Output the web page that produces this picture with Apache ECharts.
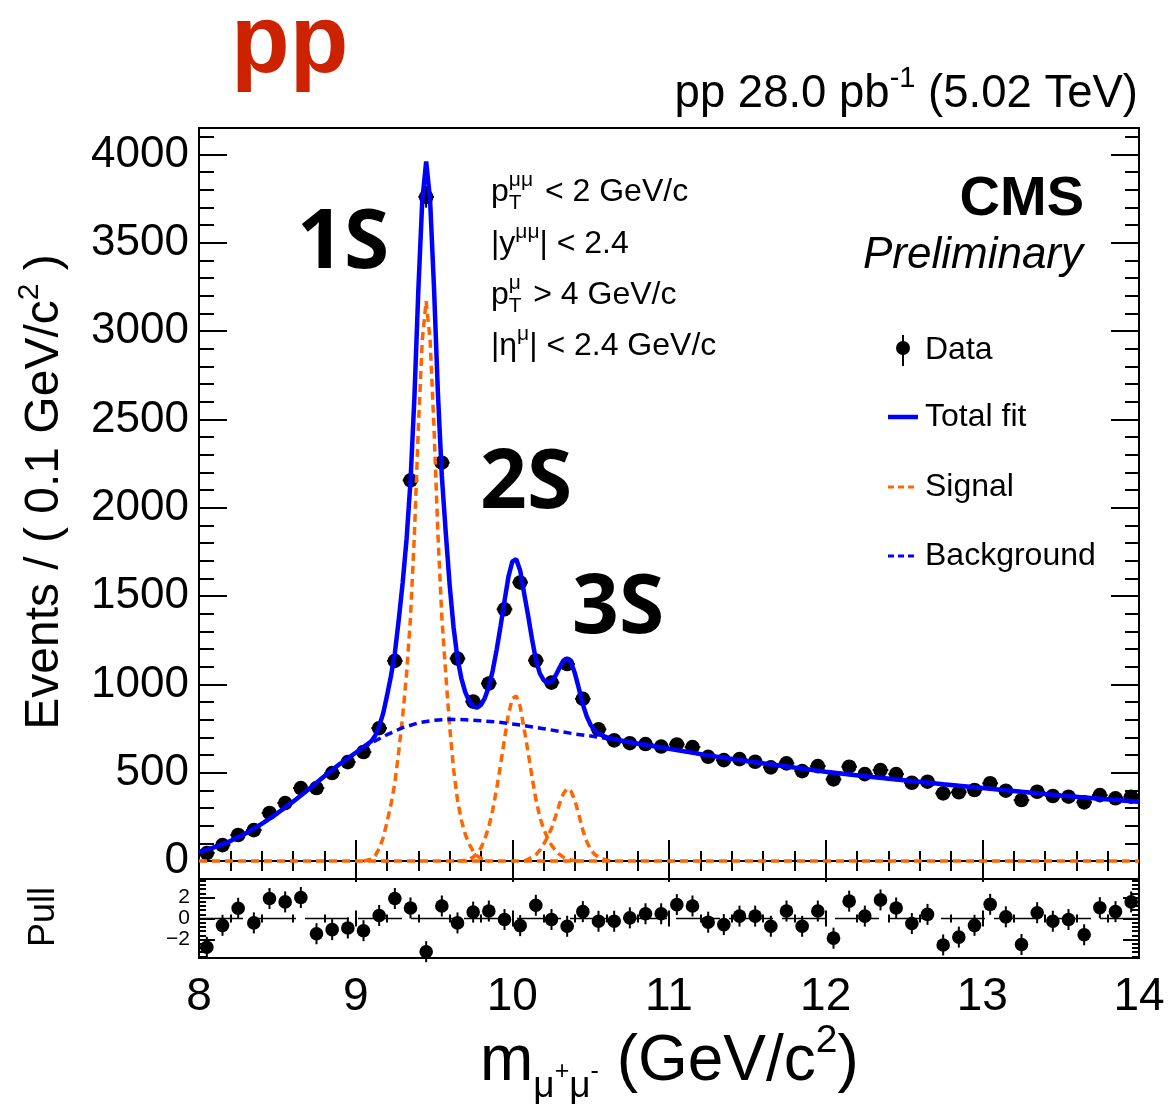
<!DOCTYPE html>
<html><head><meta charset="utf-8">
<script src="https://cdn.jsdelivr.net/npm/echarts@6/dist/echarts.min.js"></script>
<style>html,body{margin:0;padding:0;background:#fff}#c{width:1169px;height:1109px}</style>
</head><body><div id="c"></div>
<script>
// ---------------- data ----------------
const massCenters = [8.05,8.15,8.25,8.35,8.45,8.55,8.65,8.75,8.85,8.95,9.05,9.15,9.25,9.35,9.45,9.55,9.65,9.75,9.85,9.95,
  10.05,10.15,10.25,10.35,10.45,10.55,10.65,10.75,10.85,10.95,11.05,11.15,11.25,11.35,11.45,11.55,11.65,11.75,11.85,11.95,
  12.05,12.15,12.25,12.35,12.45,12.55,12.65,12.75,12.85,12.95,13.05,13.15,13.25,13.35,13.45,13.55,13.65,13.75,13.85,13.95];
const events = [45,90,147,175,272,328,413,413,498,560,617,752,1133,2155,3760,2255,1146,903,1005,1425,
  1577,1135,1010,1115,918,745,683,667,662,648,660,645,590,571,577,562,530,553,509,537,
  462,534,492,515,492,443,449,383,389,402,440,398,345,392,368,364,332,373,355,364];
const eventErr = [7,9,12,13,16,18,20,20,22,24,25,27,34,46,61,47,34,30,32,38,
  40,34,32,33,30,27,26,26,26,25,26,25,24,24,24,24,23,24,23,23,
  21,23,22,23,22,21,21,20,20,20,21,20,19,20,19,19,18,19,19,19];
const pulls = [-2.74,-0.65,0.97,-0.42,1.9,1.58,2.0,-1.45,-1.06,-0.9,-1.16,0.29,1.9,1.0,-3.16,1.19,-0.42,0.61,0.71,-0.1,
  -0.68,1.26,-0.1,-0.74,0.65,-0.26,-0.26,0.06,0.45,0.45,1.32,1.19,-0.35,-0.58,0.23,0.23,-0.74,0.71,-0.74,0.71,
  -1.87,1.65,0.23,1.77,1.0,-0.48,0.39,-2.52,-1.77,-0.65,1.35,0.16,-2.48,0.55,-0.26,-0.1,-1.55,1.03,0.65,1.58];

const fitMass = [8.0,8.1,8.2,8.3,8.4,8.5,8.6,8.7,8.8,8.9,9.0,
  9.1,9.125,9.15,9.175,9.2,9.225,9.25,9.275,9.3,9.325,9.35,9.375,9.4,9.425,9.45,9.475,9.5,9.525,9.55,9.575,
  9.6,9.625,9.65,9.675,9.7,9.725,9.75,9.775,9.8,9.825,9.85,9.875,9.9,9.925,9.95,9.975,
  10.0,10.025,10.05,10.075,10.1,10.125,10.15,10.175,10.2,10.225,10.25,10.275,10.3,10.325,10.35,10.375,
  10.4,10.425,10.45,10.475,10.5,10.525,10.55,10.575,10.6,10.625,10.65,
  10.75,11.0,11.25,11.5,11.75,12.0,12.25,12.5,12.75,13.0,13.25,13.5,13.75,14.0];
const fitValues = [50,78,113,157,210,270,336,406,480,550,613,
  678,710,762,834,935,1046,1176,1366,1575,1823,2150,2626,3232,3737,3961,3744,3247,2649,2180,1861,
  1562,1322,1147,1033,955,904,874,868,884,924,986,1079,1197,1330,1472,1609,
  1696,1708,1645,1517,1393,1260,1141,1063,1024,1010,1016,1048,1092,1132,1148,1124,
  1061,976,887,819,770,741,722,710,701,695,690,
  672,636,598,565,535,505,480,457,434,413,392,371,353,335];

const bgMass = [8.0,8.1,8.2,8.3,8.4,8.5,8.6,8.7,8.8,8.9,9.0,9.1,9.2,9.3,9.4,9.5,9.6,9.7,9.8,9.9,
  10.0,10.1,10.2,10.3,10.4,10.5,10.6,10.75,11.0,11.25,11.5,11.75,12.0,12.25,12.5,12.75,13.0,13.25,13.5,13.75,14.0];
const bgValues = [50,78,113,157,210,270,336,406,480,550,613,668,715,755,782,797,802,800,794,787,
  776,763,749,734,719,708,694,672,636,598,565,535,505,480,457,434,413,392,371,353,335];

const s1Mass = [9.05,9.1,9.125,9.15,9.175,9.2,9.225,9.25,9.275,9.3,9.325,9.35,9.375,9.4,9.425,9.45,9.475,9.5,9.525,9.55,
  9.575,9.6,9.625,9.65,9.675,9.7,9.725,9.75,9.775,9.8,9.825,9.85];
const s1Values = [0,10,30,70,130,220,320,440,620,820,1060,1380,1850,2450,2950,3170,2950,2450,1850,1380,
  1060,760,520,345,230,150,95,55,30,15,6,0];
const s2Mass = [9.65,9.675,9.7,9.725,9.75,9.775,9.8,9.825,9.85,9.875,9.9,9.925,9.95,9.975,10.0,10.025,10.05,10.075,
  10.1,10.125,10.15,10.175,10.2,10.225,10.25,10.275,10.3,10.325,10.35,10.375,10.4,10.45];
const s2Values = [0,2,5,10,22,42,75,125,195,290,410,545,690,830,920,935,875,750,
  620,480,350,250,180,130,90,60,38,22,12,6,2,0];
const s3Mass = [10.075,10.1,10.125,10.15,10.175,10.2,10.225,10.25,10.275,10.3,10.325,10.35,10.375,10.4,10.425,10.45,
  10.475,10.5,10.525,10.55,10.575,10.6,10.625,10.65];
const s3Values = [0,10,20,35,60,95,135,185,250,320,380,410,395,340,260,175,
  110,65,38,22,12,6,2,0];

const yMajorTicks = [0,500,1000,1500,2000,2500,3000,3500,4000];
const yMinorTicks = [100,200,300,400,600,700,800,900,1100,1200,1300,1400,1600,1700,1800,1900,2100,2200,2300,2400,
  2600,2700,2800,2900,3100,3200,3300,3400,3600,3700,3800,3900,4100];
const pullMajorTicks = [-2,0,2];
const pullMinorTicks = [-3.6,-3.2,-2.8,-2.4,-1.6,-1.2,-0.8,-0.4,0.4,0.8,1.2,1.6,2.4,2.8,3.2,3.6];

// ---------------- helpers ----------------
const F = "'Liberation Sans', Arial, sans-serif";
const mctx = document.createElement('canvas').getContext('2d');
function tw(t, f){ mctx.font = f; return mctx.measureText(t).width; }
function seq(pieces, x, y, align, rot){
  rot = rot || 0;
  const ws = pieces.map(p => p.adv === false ? 0 : tw(p.t, p.f));
  const total = ws.reduce((a,b)=>a+b,0);
  let d = align === 'right' ? -total : (align === 'center' ? -total/2 : 0);
  const c = Math.cos(rot), s = Math.sin(rot);
  const out = [];
  pieces.forEach((p,i)=>{
    const dy = p.dy || 0;
    out.push({type:'text', x: x + d*c + dy*s, y: y - d*s + dy*c, rotation: rot, z: 100,
      style:{text:p.t, font:p.f, fill:p.fill || '#000', textAlign:'left', textVerticalAlign:'middle'}});
    d += ws[i];
  });
  return out;
}
const f = (sz, w, st) => `${st||'normal'} normal ${w||'normal'} ${sz}px ${F}`;
const tickStyle = {color:'#000', width:2};
const BLUE = '#0000ff', ORANGE = '#ff6600';

function xAx(grid, pos, majLen, minLen, labels){
  return {gridIndex:grid, type:'value', min:8, max:14, interval:1, position:pos,
    axisLine:{show:false}, splitLine:{show:false},
    axisTick:{show:true, inside:true, length:majLen, lineStyle:tickStyle},
    minorTick:{show:true, splitNumber:5, length:minLen, lineStyle:tickStyle},
    axisLabel: labels ? {show:true, fontSize:46, fontFamily:F, color:'#000', margin:16, hideOverlap:false, formatter:v=>String(v)} : {show:false}};
}
function yAx(grid, pos, min, max, ticks, len, labelCfg){
  return {gridIndex:grid, type:'value', min:min, max:max, position:pos,
    axisLine:{show:false}, splitLine:{show:false},
    axisTick:{show:true, inside:true, length:len, customValues:ticks, lineStyle:tickStyle},
    minorTick:{show:false},
    axisLabel: labelCfg ? Object.assign({show:true, customValues:ticks, fontFamily:F, color:'#000', hideOverlap:false, formatter:v=>String(v)}, labelCfg) : {show:false}};
}

// ---------------- graphics (texts & legend) ----------------
const g = [];
g.push(...seq([{t:'pp', f:f(96,'bold'), fill:'#cc2200'}], 231, 46));
g.push(...seq([{t:'pp 28.0 pb', f:f(45.5)}, {t:'-1', f:f(29), dy:-15}, {t:' (5.02 TeV)', f:f(45.5)}], 1138, 94, 'right'));
g.push(...seq([{t:'CMS', f:f(56,'bold')}], 1084, 200, 'right'));
g.push(...seq([{t:'Preliminary', f:f(44,'normal','italic')}], 1083, 256, 'right'));
['1S','2S','3S'].forEach((t,i)=>{
  const pos = [[297,245],[480,485],[572,610]][i];
  g.push({type:'text', x:pos[0], y:pos[1], z:100, style:{text:t, fontFamily:'Open Sans', fontStyle:'normal', fontWeight:'bold', fontSize:82,
    fill:'#000', textAlign:'left', textVerticalAlign:'middle'}});
});
// cuts
const cf = f(32), cs = f(21);
g.push(...seq([{t:'p', f:cf}, {t:'μμ', f:cs, dy:-12, adv:false}, {t:'T', f:cs, dy:11}, {t:'    ', f:cs}, {t:'< 2 GeV/c', f:cf}], 491, 192));
g.push(...seq([{t:'|y', f:cf}, {t:'μμ', f:cs, dy:-12}, {t:'| < 2.4', f:cf}], 491, 244));
g.push(...seq([{t:'p', f:cf}, {t:'μ', f:cs, dy:-12, adv:false}, {t:'T', f:cs, dy:11}, {t:'  ', f:cs}, {t:'> 4 GeV/c', f:cf}], 491, 295));
g.push(...seq([{t:'|η', f:cf}, {t:'μ', f:cs, dy:-12}, {t:'| < 2.4 GeV/c', f:cf}], 491, 346));
// legend
g.push({type:'line', z:100, shape:{x1:903, y1:335, x2:903, y2:366}, style:{stroke:'#000', lineWidth:2}});
g.push({type:'circle', z:100, shape:{cx:903, cy:348, r:7}, style:{fill:'#000'}});
g.push({type:'line', z:100, shape:{x1:888, y1:417, x2:918, y2:417}, style:{stroke:BLUE, lineWidth:4.5}});
g.push({type:'line', z:100, shape:{x1:888, y1:487, x2:918, y2:487}, style:{stroke:ORANGE, lineWidth:3, lineDash:[6,4]}});
g.push({type:'line', z:100, shape:{x1:888, y1:556, x2:918, y2:556}, style:{stroke:BLUE, lineWidth:3, lineDash:[6,4]}});
[['Data',350],['Total fit',417],['Signal',487],['Background',556]].forEach(([t,y])=>g.push(...seq([{t:t, f:f(32)}], 925, y)));
// axis titles
g.push(...seq([{t:'Events / ( 0.1 GeV/c', f:f(48)}, {t:'2', f:f(30), dy:-15}, {t:' )', f:f(48)}], 45, 492, 'center', Math.PI/2));
g.push(...seq([{t:'Pull', f:f(36)}], 44, 917, 'center', Math.PI/2));
g.push(...seq([{t:'m', f:f(64)}, {t:'μ', f:f(37), dy:25}, {t:'+', f:f(25), dy:10}, {t:'μ', f:f(37), dy:25}, {t:'-', f:f(25), dy:10},
  {t:' (GeV/c', f:f(64)}, {t:'2', f:f(39), dy:-21}, {t:')', f:f(64)}], 480, 1062));

// ---------------- chart ----------------
const chart = echarts.init(document.getElementById('c'), null, {renderer:'canvas'});
const pair = (xs, ys) => xs.map((x,i)=>[x, ys[i]]);
const lineSeries = (name, xs, ys, color, width, dash, z, clip) => ({
  name, type:'line', xAxisIndex:0, yAxisIndex:0, data:pair(xs, ys), showSymbol:false, symbol:'none',
  clip: clip, z: z, lineStyle:{color, width, type: dash || 'solid'}, silent:true});

chart.setOption({
  animation:false,
  backgroundColor:'#fff',
  grid:[
    {left:199, top:128, width:940, height:733, show:true, borderColor:'#000', borderWidth:2, backgroundColor:'transparent'},
    {left:199, top:879, width:940, height:79, show:true, borderColor:'#000', borderWidth:2, backgroundColor:'transparent'}
  ],
  xAxis:[ xAx(0,'bottom',21,10,false), xAx(0,'top',21,10,false), xAx(1,'bottom',8,4,true), xAx(1,'top',8,4,false) ],
  yAxis:[
    yAx(0,'left',0,4150,yMajorTicks,28,{fontSize:44, margin:10}),
    yAx(0,'left',0,4150,yMinorTicks,15,null),
    yAx(0,'right',0,4150,yMajorTicks,28,null),
    yAx(0,'right',0,4150,yMinorTicks,14,null),
    yAx(1,'left',-3.76,3.76,pullMajorTicks,16,{fontSize:21, lineHeight:20, margin:9, formatter:v=>String(v).replace('-','\u2212')}),
    yAx(1,'left',-3.76,3.76,pullMinorTicks,7,null),
    yAx(1,'right',-3.76,3.76,pullMajorTicks,16,null),
    yAx(1,'right',-3.76,3.76,pullMinorTicks,7,null)
  ],
  series:[
    {type:'custom', name:'Data', xAxisIndex:0, yAxisIndex:0, z:2, silent:true,
      data: massCenters.map((m,i)=>[m, events[i], eventErr[i]]),
      renderItem(params, api){
        const x = api.value(0), y = api.value(1), e = api.value(2);
        const c = api.coord([x,y]), lo = api.coord([x,y-e]), hi = api.coord([x,y+e]);
        const l = api.coord([x-0.05,y]), r = api.coord([x+0.05,y]);
        return {type:'group', children:[
          {type:'line', shape:{x1:lo[0],y1:lo[1],x2:hi[0],y2:hi[1]}, style:{stroke:'#000', lineWidth:2}},
          {type:'line', shape:{x1:l[0],y1:c[1],x2:r[0],y2:c[1]}, style:{stroke:'#000', lineWidth:2}},
          {type:'circle', shape:{cx:c[0],cy:c[1],r:7.3}, style:{fill:'#000'}}
        ]};
      }},
    lineSeries('Signal0', [8,14], [0,0], ORANGE, 3.5, [8,5], 3, false),
    lineSeries('Signal1', s1Mass, s1Values, ORANGE, 3.5, [8,5], 3, false),
    lineSeries('Signal2', s2Mass, s2Values, ORANGE, 3.5, [8,5], 3, false),
    lineSeries('Signal3', s3Mass, s3Values, ORANGE, 3.5, [8,5], 3, false),
    lineSeries('Background', bgMass, bgValues, BLUE, 3.5, [8,5], 4, true),
    lineSeries('Total fit', fitMass, fitValues, BLUE, 4.5, 'solid', 5, true),
    {type:'line', name:'zero', xAxisIndex:2, yAxisIndex:4, data:[[8,0],[14,0]], showSymbol:false, symbol:'none', z:2, silent:true,
      lineStyle:{color:'#000', width:1.5, type:[44,9]}},
    {type:'custom', name:'Pull', xAxisIndex:2, yAxisIndex:4, z:3, silent:true,
      data: massCenters.map((m,i)=>[m, pulls[i]]),
      renderItem(params, api){
        const x = api.value(0), y = api.value(1);
        const c = api.coord([x,y]), lo = api.coord([x,y-1]), hi = api.coord([x,y+1]);
        return {type:'group', children:[
          {type:'line', shape:{x1:lo[0],y1:lo[1],x2:hi[0],y2:hi[1]}, style:{stroke:'#000', lineWidth:2}},
          {type:'circle', shape:{cx:c[0],cy:c[1],r:6.8}, style:{fill:'#000'}}
        ]};
      }}
  ],
  graphic: g
});
</script>
</body></html>
